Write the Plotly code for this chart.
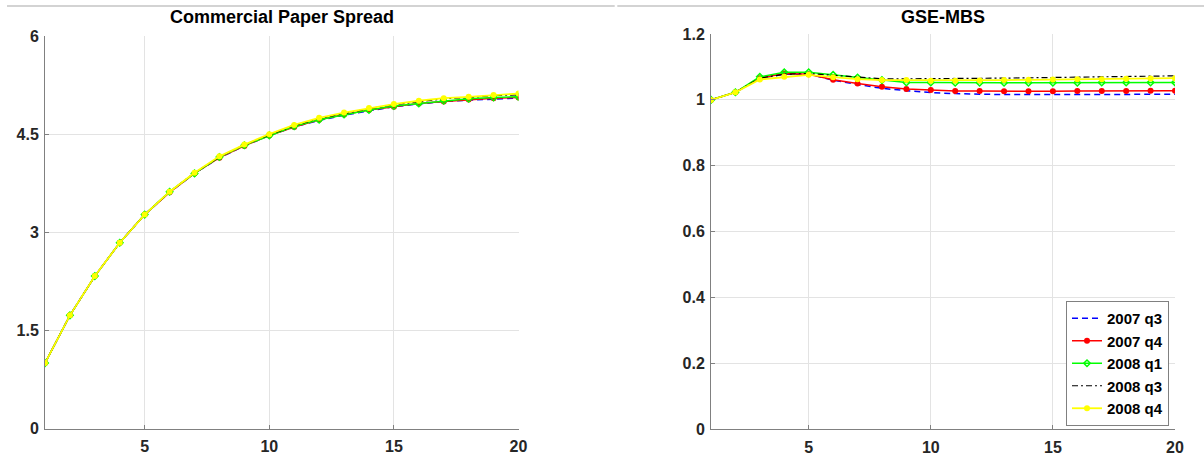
import plotly.graph_objects as go

# Horizons (quarters after shock)
horizon = list(range(1, 21))

# Commercial paper spread responses
cp_2007q3 = [1.00, 1.73, 2.33, 2.84, 3.27, 3.61, 3.90, 4.14, 4.32, 4.48,
             4.61, 4.71, 4.79, 4.86, 4.92, 4.96, 5.00, 5.02, 5.04, 5.05]
cp_2007q4 = [1.00, 1.73, 2.33, 2.84, 3.27, 3.61, 3.90, 4.14, 4.32, 4.48,
             4.61, 4.72, 4.80, 4.87, 4.92, 4.97, 5.00, 5.03, 5.05, 5.06]
cp_2008q1 = [1.00, 1.73, 2.33, 2.84, 3.27, 3.62, 3.90, 4.15, 4.33, 4.48,
             4.62, 4.72, 4.80, 4.87, 4.93, 4.97, 5.01, 5.04, 5.06, 5.07]
cp_2008q3 = [1.00, 1.73, 2.33, 2.84, 3.27, 3.62, 3.91, 4.15, 4.34, 4.49,
             4.63, 4.74, 4.82, 4.89, 4.95, 5.00, 5.04, 5.06, 5.09, 5.10]
cp_2008q4 = [1.00, 1.73, 2.33, 2.84, 3.27, 3.62, 3.91, 4.16, 4.34, 4.50,
             4.64, 4.75, 4.83, 4.90, 4.96, 5.01, 5.05, 5.07, 5.10, 5.12]

# GSE-MBS responses
gse_2007q3 = [1.000, 1.023, 1.065, 1.078, 1.078, 1.060, 1.047, 1.035, 1.028, 1.022,
              1.019, 1.017, 1.016, 1.016, 1.016, 1.016, 1.016, 1.016, 1.017, 1.017]
gse_2007q4 = [1.000, 1.023, 1.066, 1.080, 1.078, 1.061, 1.050, 1.040, 1.033, 1.030,
              1.027, 1.027, 1.026, 1.026, 1.026, 1.027, 1.027, 1.027, 1.028, 1.028]
gse_2008q1 = [1.000, 1.023, 1.070, 1.084, 1.084, 1.076, 1.068, 1.060, 1.053, 1.053,
              1.052, 1.052, 1.052, 1.052, 1.052, 1.052, 1.053, 1.053, 1.053, 1.053]
gse_2008q3 = [1.000, 1.023, 1.066, 1.078, 1.080, 1.074, 1.068, 1.064, 1.064, 1.064,
              1.064, 1.065, 1.066, 1.067, 1.068, 1.069, 1.070, 1.071, 1.072, 1.073]
gse_2008q4 = [1.000, 1.023, 1.062, 1.070, 1.076, 1.069, 1.063, 1.060, 1.060, 1.058,
              1.058, 1.059, 1.060, 1.061, 1.062, 1.063, 1.063, 1.064, 1.065, 1.066]

series_names = ["2007 q3", "2007 q4", "2008 q1", "2008 q3", "2008 q4"]

cp_ticks = [0, 1.5, 3, 4.5, 6]
cp_ticklabels = ["0", "1.5", "3", "4.5", "6"]
gse_ticks = [0, 0.2, 0.4, 0.6, 0.8, 1.0, 1.2]
gse_ticklabels = ["0", "0.2", "0.4", "0.6", "0.8", "1", "1.2"]
x_ticks = [5, 10, 15, 20]

FONT = "Liberation Sans, Arial, sans-serif"

styles = [
    dict(line=dict(color="#0000ff", width=1.5, dash="6px,4px"), mode="lines"),
    dict(line=dict(color="#ff0000", width=1.5), mode="lines+markers",
         marker=dict(symbol="circle", size=6, color="#ff0000")),
    dict(line=dict(color="#00ff00", width=1.5), mode="lines+markers",
         marker=dict(symbol="diamond-open", size=5, color="#00ff00",
                     line=dict(width=1.5, color="#00ff00"))),
    dict(line=dict(color="#000000", width=1.2, dash="6px,3px,2px,3px"), mode="lines"),
    dict(line=dict(color="#ffff00", width=1.8), mode="lines+markers",
         marker=dict(symbol="circle", size=6, color="#ffff00")),
]

fig = go.Figure()

for name, ys, st in zip(series_names,
                        [cp_2007q3, cp_2007q4, cp_2008q1, cp_2008q3, cp_2008q4],
                        styles):
    fig.add_trace(go.Scatter(x=horizon, y=ys, name=name, showlegend=False,
                             xaxis="x", yaxis="y", **st))

for name, ys, st in zip(series_names,
                        [gse_2007q3, gse_2007q4, gse_2008q1, gse_2008q3, gse_2008q4],
                        styles):
    fig.add_trace(go.Scatter(x=horizon, y=ys, name=f"<b>{name}</b>", showlegend=True,
                             xaxis="x2", yaxis="y2", **st))

W, H = 1204, 456
tick_font = dict(family=FONT, size=16, color="#262626", weight="bold")
axis_common = dict(
    showline=True, linecolor="#808080", linewidth=1,
    ticks="inside", ticklen=4, tickcolor="#808080", tickwidth=1,
    showgrid=True, gridcolor="#e3e3e3", gridwidth=1,
    zeroline=False, tickfont=tick_font, mirror=False, automargin=False,
)

fig.update_layout(
    width=W, height=H,
    margin=dict(l=0, r=0, t=0, b=0, autoexpand=False),
    paper_bgcolor="white", plot_bgcolor="white",
    font=dict(family=FONT, color="#000000"),
    xaxis=dict(domain=[45 / W, 518.5 / W], range=[1, 20], tickvals=x_ticks,
               anchor="y", ticklabelstandoff=3, **axis_common),
    yaxis=dict(domain=[1 - 428.5 / H, 1 - 36 / H], range=[0, 6], tickvals=cp_ticks,
               ticktext=cp_ticklabels, anchor="x", ticklabelstandoff=2, **axis_common),
    xaxis2=dict(domain=[711 / W, 1175 / W], range=[1, 20], tickvals=x_ticks,
                anchor="y2", ticklabelstandoff=3, **axis_common),
    yaxis2=dict(domain=[1 - 429.3 / H, 1 - 34 / H], range=[0, 1.2], tickvals=gse_ticks,
                ticktext=gse_ticklabels, anchor="x2", ticklabelstandoff=2, **axis_common),
    legend=dict(
        x=1066 / W, y=1 - 301 / H, xanchor="left", yanchor="top",
        bgcolor="white", bordercolor="#808080", borderwidth=1,
        font=dict(family=FONT, size=15, color="#000000"),
        itemwidth=30, tracegroupgap=0,
    ),
    showlegend=True,
)

# Panel titles
for text, xc in [("<b>Commercial Paper Spread</b>", (45 + 518.5) / 2 / W),
                 ("<b>GSE-MBS</b>", (711 + 1175) / 2 / W)]:
    fig.add_annotation(text=text, x=xc, y=1 - 17 / H, xref="paper", yref="paper",
                       xanchor="center", yanchor="middle", showarrow=False,
                       font=dict(family=FONT, size=18, color="#000000"))

# Thin separator rule along the top edge
for x0, x1 in [(7, 614.7), (617.3, W)]:
    fig.add_shape(type="line", xref="paper", yref="paper",
                  x0=x0 / W, x1=x1 / W, y0=1 - 6 / H, y1=1 - 6 / H,
                  line=dict(color="#c4c4c4", width=1.5))

fig.write_html("out.html")
